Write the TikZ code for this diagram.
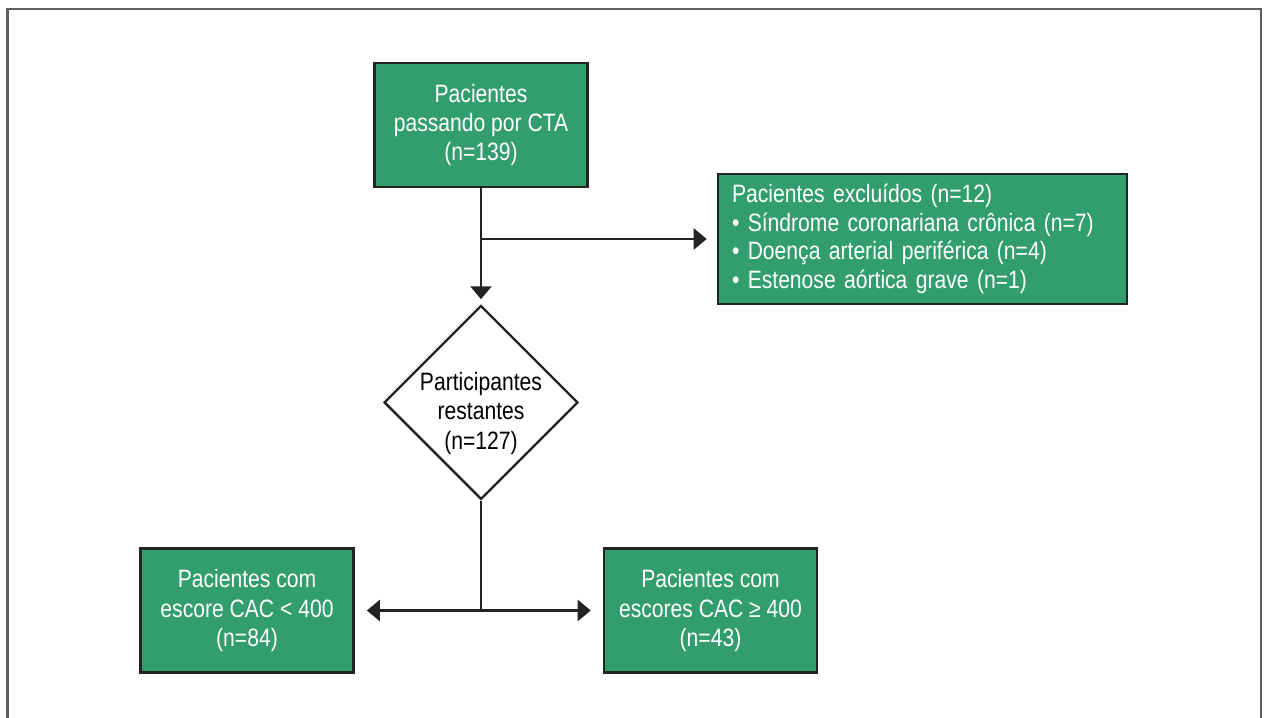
\documentclass[tikz,border=0pt]{standalone}
\usepackage{fontspec}
\setmainfont{Liberation Sans}[FakeStretch=0.84]
\usetikzlibrary{arrows.meta,shapes.geometric}
\definecolor{boxgreen}{RGB}{50,158,111}
\definecolor{edgegray}{RGB}{35,35,35}
\definecolor{framegray}{RGB}{95,95,95}
\begin{document}
\begin{tikzpicture}[
        block/.style={
            draw=edgegray,
            line width=1.5pt,
            fill=boxgreen,
            text=white,
            align=center,
            minimum width=4.26cm,
            minimum height=2.48cm,
            font=\fontsize{14.3}{16.6}\selectfont
        },
        listblock/.style={
            block,
            align=left,
            text width=7.62cm,
            inner xsep=0.28cm,
            minimum width=8.18cm,
            minimum height=2.6cm,
            font=\fontsize{14.3}{16.3}\selectfont
        },
        decision/.style={
            diamond,
            aspect=1,
            draw=edgegray,
            line width=1.4pt,
            inner sep=0pt,
            minimum size=3.88cm
        },
        signal/.style={-{Triangle[width=0.42cm,length=0.26cm]}, line width=1.4pt, draw=edgegray},
        fork/.style={{Triangle[width=0.42cm,length=0.26cm]}-{Triangle[width=0.42cm,length=0.26cm]}, line width=1.4pt, draw=edgegray}
    ]
        \useasboundingbox (0,0) rectangle (25.34,-14.36);
        \draw[framegray, line width=1.3pt] (0.15,-14.5) -- (0.15,-0.18) -- (25.22,-0.18) -- (25.22,-14.5);

        \node[block] (cta) at (9.62,-2.5) {Pacientes\\passando por CTA\\(n=139)};
        \node[listblock] (excluded) at (18.45,-4.78) {Pacientes excluídos (n=12)\\
            • Síndrome coronariana crônica (n=7)\\
            • Doença arterial periférica (n=4)\\
            • Estenose aórtica grave (n=1)};
        \node[decision, label={[font=\fontsize{14.3}{16.6}\selectfont, align=center, text=black, yshift=-0.22cm]center:Participantes\\restantes\\(n=127)}] (remaining) at (9.62,-8.05) {};
        \node[block] (low) at (4.94,-12.21) {Pacientes com\\escore CAC < 400\\(n=84)};
        \node[block] (high) at (14.21,-12.21) {Pacientes com\\escores CAC ≥ 400\\(n=43)};

        \coordinate (split) at (cta |- excluded);
        \coordinate (join) at (remaining |- low);

        \draw[signal, shorten >=0.1cm] (cta) -- (remaining);
        \draw[signal, shorten >=0.2cm] (split) -- (excluded);
        \draw[line width=1.4pt, draw=edgegray] (remaining.south) -- (join);
        \draw[fork, shorten <=0.24cm, shorten >=0.24cm] (low) -- (high);
    \end{tikzpicture}
\end{document}
